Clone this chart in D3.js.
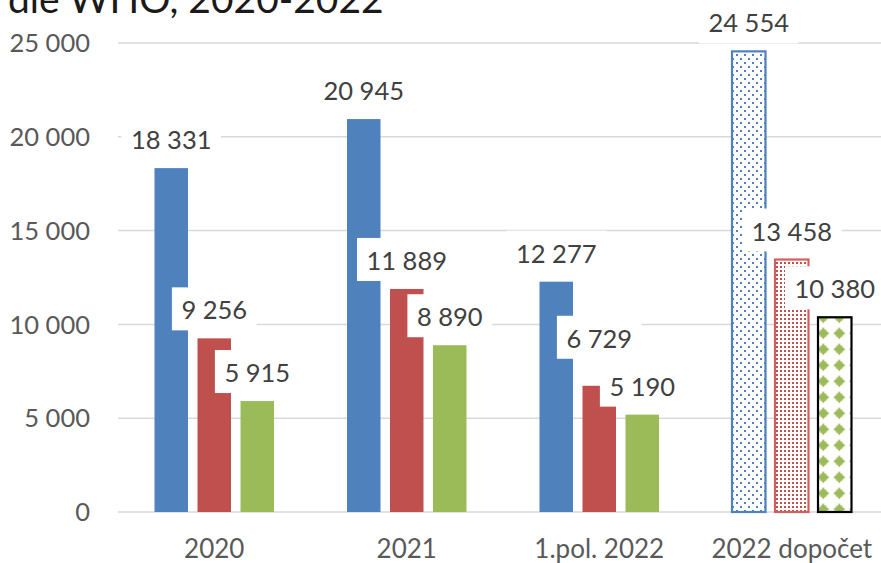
<!DOCTYPE html>
<html>
<head>
<meta charset="utf-8">
<script src="https://cdn.jsdelivr.net/npm/d3@7/dist/d3.min.js"></script>
<style>
  html, body { margin: 0; padding: 0; background: #fff; }
  svg { display: block; }
  text { font-family: Lato, "Open Sans", sans-serif; }
</style>
</head>
<body>
<svg id="chart" width="881" height="563"></svg>
<script>
// ---- data ----
const titleText = "dle WHO, 2020-2022";
const categories = ["2020", "2021", "1.pol. 2022", "2022 dopočet"];
const seriesNames = ["Řada 1", "Řada 2", "Řada 3"];
const series1 = [18331, 20945, 12277, 24554];
const series2 = [9256, 11889, 6729, 13458];
const series3 = [5915, 8890, 5190, 10380];
const yTicks = [0, 5000, 10000, 15000, 20000, 25000];
const estimatedCategory = "2022 dopočet";

const seriesValues = [series1, series2, series3];
const colors = ["#4f81bd", "#c0504d", "#9bbb59"];

const svg = d3.select("#chart");
const W = 881, H = 563;
const plotLeft = 118, plotRight = 888, plotTop = 43, plotBottom = 512;

const fmt = v => d3.format(",")(v).replace(/,/g, " ");

const x0 = d3.scaleBand().domain(categories).range([plotLeft, plotRight]).paddingInner(0).paddingOuter(0);
const groupW = 119.5;
const x1 = d3.scaleBand().domain(d3.range(seriesNames.length))
  .range([(x0.bandwidth() - groupW) / 2, (x0.bandwidth() + groupW) / 2])
  .paddingInner(0.221).paddingOuter(0);
const y = d3.scaleLinear().domain([0, 25000]).range([plotBottom, plotTop]);

// label nudges (avoid overlap, as in the original layout)
const labelNudge = { "1.pol. 2022|1": -19 };

// patterns
const defs = svg.append("defs");
const pBlue = defs.append("pattern").attr("id", "pBlue").attr("patternUnits", "userSpaceOnUse")
  .attr("width", 8).attr("height", 8).attr("x", 736).attr("y", 54);
pBlue.append("rect").attr("width", 8).attr("height", 8).attr("fill", "#fff");
pBlue.append("rect").attr("x", 0).attr("y", 0).attr("width", 2).attr("height", 2).attr("fill", colors[0]);
pBlue.append("rect").attr("x", 4).attr("y", 4).attr("width", 2).attr("height", 2).attr("fill", colors[0]);

const pRed = defs.append("pattern").attr("id", "pRed").attr("patternUnits", "userSpaceOnUse")
  .attr("width", 4).attr("height", 4).attr("x", 776).attr("y", 262);
pRed.append("rect").attr("width", 4).attr("height", 4).attr("fill", "#fff");
pRed.append("rect").attr("x", 0).attr("y", 0).attr("width", 2).attr("height", 2).attr("fill", colors[1]);

const pGreen = defs.append("pattern").attr("id", "pGreen").attr("patternUnits", "userSpaceOnUse")
  .attr("width", 16).attr("height", 16).attr("x", 815.3).attr("y", 405.3);
pGreen.append("rect").attr("width", 16).attr("height", 16).attr("fill", "#fff");
pGreen.append("path").attr("fill", colors[2])
  .attr("d", "M7,2.5 H9 V4 H10.5 V5.5 H12 V7 H13.5 V9 H12 V10.5 H10.5 V12 H9 V13.5 H7 V12 H5.5 V10.5 H4 V9 H2.5 V7 H4 V5.5 H5.5 V4 H7 Z");
const patterns = ["url(#pBlue)", "url(#pRed)", "url(#pGreen)"];
const patternStroke = [colors[0], "#d0605e", "#000"];

// title (cut off at top)
svg.append("text").attr("x", 8).attr("y", 13)
  .attr("font-size", 39).attr("fill", "#1a1a1a").text(titleText);

// gridlines
svg.append("g").selectAll("line").data(yTicks).join("line")
  .attr("x1", plotLeft).attr("x2", W)
  .attr("y1", d => y(d)).attr("y2", d => y(d))
  .attr("stroke", "#d9d9d9").attr("stroke-width", 1.5);

// y tick labels
svg.append("g").selectAll("text").data(yTicks).join("text")
  .attr("x", 90).attr("y", d => y(d)).attr("dy", "0.36em")
  .attr("text-anchor", "end").attr("font-size", 25.5).attr("fill", "#595959")
  .text(d => fmt(d));

// category labels
svg.append("g").selectAll("text").data(categories).join("text")
  .attr("x", d => x0(d) + x0.bandwidth() / 2).attr("y", 558)
  .attr("text-anchor", "middle").attr("font-size", 26).attr("fill", "#595959")
  .text(d => d);

// bars
const barData = [];
categories.forEach((c, ci) => {
  seriesValues.forEach((vals, si) => {
    barData.push({ c, si, v: vals[ci], est: c === estimatedCategory });
  });
});

const bars = svg.append("g");
barData.forEach(d => {
  const bx = x0(d.c) + x1(d.si), bw = x1.bandwidth();
  const r = bars.append("rect")
    .attr("x", bx).attr("y", y(d.v)).attr("width", bw).attr("height", y(0) - y(d.v));
  if (d.est) {
    r.attr("fill", patterns[d.si]).attr("stroke", patternStroke[d.si]).attr("stroke-width", 2.2);
  } else {
    r.attr("fill", colors[d.si]);
  }
});

// data labels with white background
const labels = svg.append("g");
barData.forEach(d => {
  const cx = x0(d.c) + x1(d.si) + x1.bandwidth() / 2;
  const boxBottom = y(d.v) - 8 + (labelNudge[d.c + "|" + d.si] || 0);
  const g = labels.append("g");
  const rect = g.append("rect").attr("fill", "#fff");
  const t = g.append("text").attr("x", cx).attr("y", boxBottom - 11)
    .attr("text-anchor", "middle").attr("font-size", 25.5).attr("fill", "#404040")
    .text(fmt(d.v));
  const tw = t.node().getComputedTextLength();
  rect.attr("x", cx - tw / 2 - 9.5).attr("width", tw + 19)
    .attr("y", boxBottom - 43).attr("height", 43);
});
</script>
</body>
</html>
